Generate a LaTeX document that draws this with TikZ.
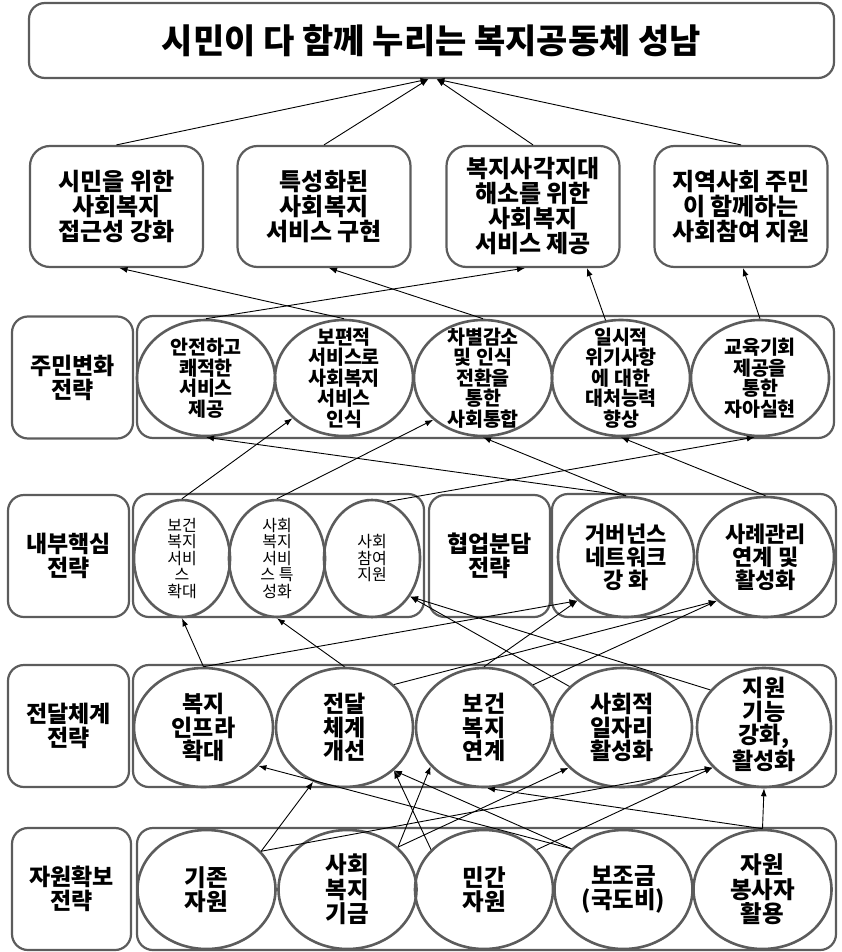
\documentclass[tikz,border=0pt]{standalone}
\usepackage{fontspec}
\setmainfont{Noto Sans CJK KR}
\usetikzlibrary{shapes.geometric,arrows.meta}

\definecolor{bordgray}{HTML}{5C5C5C}

\begin{document}
\begin{tikzpicture}[x=1pt,y=-1pt,
  box/.style={draw=bordgray, line width=2.2pt, rounded corners=16pt, inner sep=0pt, align=center},
  stratbox/.style={box, minimum width=121pt, minimum height=122pt, font=\bfseries\fontsize{23}{24}\selectfont},
  goalbox/.style={box, rounded corners=20pt, minimum width=173pt, minimum height=121pt, font=\bfseries\fontsize{24}{25}\selectfont},
  holder/.style={box, minimum height=122pt},
  oval/.style={ellipse, draw=bordgray, line width=2.6pt, inner sep=0pt, minimum width=138pt, minimum height=118pt},
  ztxt/.style={align=center, font=\bfseries\fontsize{19.5}{20.5}\selectfont},
  ntxt/.style={align=center, font=\fontsize{16}{16.5}\selectfont},
  ctxt/.style={align=center, font=\bfseries\fontsize{22}{23}\selectfont},
  dtxt/.style={align=center, font=\bfseries\fontsize{23}{23.5}\selectfont},
  rtxt/.style={align=center, font=\bfseries\fontsize{23.5}{24.5}\selectfont},
  link/.style={-{Latex[length=8pt,width=6pt]}, line width=0.9pt, black}
]
\useasboundingbox (0,0) rectangle (841,952);

% ===== Vision =====
\node[box, minimum width=805pt, minimum height=75pt, font=\bfseries\fontsize{34}{38}\selectfont] (title) at (431.5,40.5) {시민이 다 함께 누리는 복지공동체 성남};
\coordinate (tl) at ([xshift=-3pt]title.south);
\coordinate (tr) at ([xshift=5pt]title.south);

% ===== Goals =====
\node[goalbox] (g1) at (116.5,206.5) {시민을 위한\\사회복지\\접근성 강화};
\node[goalbox] (g2) at (324,206.5) {특성화된\\사회복지\\서비스 구현};
\node[goalbox] (g3) at (533,206.5) {복지사각지대\\해소를 위한\\사회복지\\서비스 제공};
\node[goalbox] (g4) at (741,206.5) {지역사회 주민\\이 함께하는\\사회참여 지원};

% ===== Row 1: 주민변화 =====
\node[stratbox] (s1) at (72.5,377.5) {주민변화\\전략};
\node[holder, minimum width=697pt] (h1) at (485.5,377) {};
\node[oval, minimum height=116pt] (z1) at (206,378) {};
\node[oval, minimum height=116pt] (z2) at (344,378) {};
\node[oval, minimum height=116pt] (z3) at (483,378) {};
\node[oval, minimum height=116pt] (z4) at (621,378) {};
\node[oval, minimum height=116pt] (z5) at (760,378) {};
\node[ztxt] (z1t) at (z1) {안전하고\\쾌적한\\서비스\\제공};
\node[ztxt] (z2t) at (z2) {보편적\\서비스로\\사회복지\\서비스\\인식};
\node[ztxt] (z3t) at (z3) {차별감소\\및 인식\\전환을\\통한\\사회통합};
\node[ztxt] (z4t) at (z4) {일시적\\위기사항\\에 대한\\대처능력\\향상};
\node[ztxt] (z5t) at (z5) {교육기회\\제공을\\통한\\자아실현};

% ===== Row 2: 내부핵심 / 협업분담 =====
\node[stratbox] (s2) at (68.5,556) {내부핵심\\전략};
\node[holder, minimum width=291pt, minimum height=123pt] (h2) at (278.5,555.5) {};
\node[oval, minimum width=96pt, minimum height=117pt] (n1) at (182,558.5) {};
\node[oval, minimum width=96pt, minimum height=117pt] (n2) at (277,558.5) {};
\node[oval, minimum width=96pt, minimum height=117pt] (n3) at (372,558.5) {};
\node[ntxt] (n1t) at (n1) {보건\\복지\\서비\\스\\확대};
\node[ntxt] (n2t) at (n2) {사회\\복지\\서비\\스 특\\성화};
\node[ntxt] (n3t) at (n3) {사회\\참여\\지원};
\node[stratbox] (s3) at (489.5,556) {협업분담\\전략};
\node[holder, minimum width=284pt, minimum height=123pt] (h3) at (694,555.5) {};
\node[oval, minimum width=136pt, minimum height=120pt] (n5) at (626,557) {};
\node[oval, minimum width=137pt, minimum height=120pt] (n6) at (765.5,557) {};
\node[ctxt] (n5t) at (n5) {거버넌스\\네트워크\\강 화};
\node[ctxt] (n6t) at (n6) {사례관리\\연계 및\\활성화};

% ===== Row 3: 전달체계 =====
\node[stratbox] (s4) at (68.5,726) {전달체계\\전략};
\node[holder, minimum width=703pt] (h4) at (484.5,726) {};
\node[oval, minimum width=139pt, minimum height=119pt] (d1) at (203.5,727.5) {};
\node[oval, minimum width=137pt, minimum height=119pt] (d2) at (344.5,727.5) {};
\node[oval, minimum width=136pt, minimum height=119pt] (d3) at (484,727.5) {};
\node[oval, minimum width=140pt, minimum height=119pt] (d4) at (622,727.5) {};
\node[oval, minimum width=134pt, minimum height=119pt] (d5) at (764,727.5) {};
\node[dtxt] (d1t) at (d1) {복지\\인프라\\확대};
\node[dtxt] (d2t) at (d2) {전달\\체계\\개선};
\node[dtxt] (d3t) at (d3) {보건\\복지\\연계};
\node[dtxt] (d4t) at (d4) {사회적\\일자리\\활성화};
\node[dtxt] (d5t) at ([yshift=3pt]d5.center) {지원\\기능\\강화,\\활성화};

% ===== Row 4: 자원확보 =====
\node[stratbox, minimum width=119pt] (s5) at (71.5,889) {자원확보\\전략};
\node[holder, minimum width=699pt] (h5) at (486.5,889) {};
\node[oval, minimum height=119pt] (r1) at (206.5,889.5) {};
\node[oval, minimum height=119pt] (r2) at (347.5,889.5) {};
\node[oval, minimum height=119pt] (r3) at (484,889.5) {};
\node[oval, minimum height=119pt] (r4) at (623.5,889.5) {};
\node[oval, minimum height=119pt] (r5) at (762.5,889.5) {};
\node[rtxt] (r1t) at (r1) {기존\\자원};
\node[rtxt] (r2t) at (r2) {사회\\복지\\기금};
\node[rtxt] (r3t) at (r3) {민간\\자원};
\node[rtxt] (r4t) at (r4) {보조금\\(국도비)};
\node[rtxt] (r5t) at (r5) {자원\\봉사자\\활용};

% ===== Goals -> vision =====
\draw[link] (g1.north) -- (tl);
\draw[link] (g2.north) -- (tl);
\draw[link] (g3.north) -- (tr);
\draw[link] (g4.north) -- (tr);

% ===== Row 1 -> goals =====
\draw[link] (z1.north) -- ([xshift=-8pt]g3.south);
\draw[link] (z2.north) -- ([xshift=3pt]g1.south);
\draw[link] (z3.north) -- ([xshift=5pt]g2.south);
\draw[link] (z4.105) -- ([xshift=54pt]g3.south);
\draw[link] (z5.north) -- ([xshift=2pt]g4.south);

% ===== Row 2 -> row 1 =====
\draw[link] (n1.north) -- (z2.218);
\draw[link] (n2.north) -- (z3.220);
\draw[link] (n3.75) -- (z5.265);
\draw[link] (n5.north) -- (z1.south);
\draw[link] (n5.north) -- (z3.south);
\draw[link] (n6.north) -- (z4.south);

% ===== Row 3 -> row 2 =====
\draw[link] (d1.north) -- (n1.south);
\draw[link] (d1.north) -- (n5.222);
\draw[link] (d2.north) -- (n2.south);
\draw[link] (d2.41) -- (n6.222);
\draw[link] (d3.north) -- (n5.222);
\draw[link] (d3.41) -- (n6.222);
\draw[link] (d4.142) -- (n3.315);
\draw[link] (d5.145) -- (n3.315);

% ===== Row 4 -> row 3 =====
\draw[link] (r1.35) -- (d2.240);
\draw[link] (r1.35) -- (d5.218);
\draw[link] (r2.40) -- (d3.216);
\draw[link] (r2.40) -- (d4.217);
\draw[link] (r3.143) -- (d2.319);
\draw[link] (r3.37) -- (d5.218);
\draw[link] (r4.142) -- (d1.325);
\draw[link] (r4.142) -- (d2.319);
\draw[link] (r5.north) -- ([xshift=3pt]d3.south);
\draw[link] (r5.north) -- (d5.south);

\end{tikzpicture}
\end{document}
